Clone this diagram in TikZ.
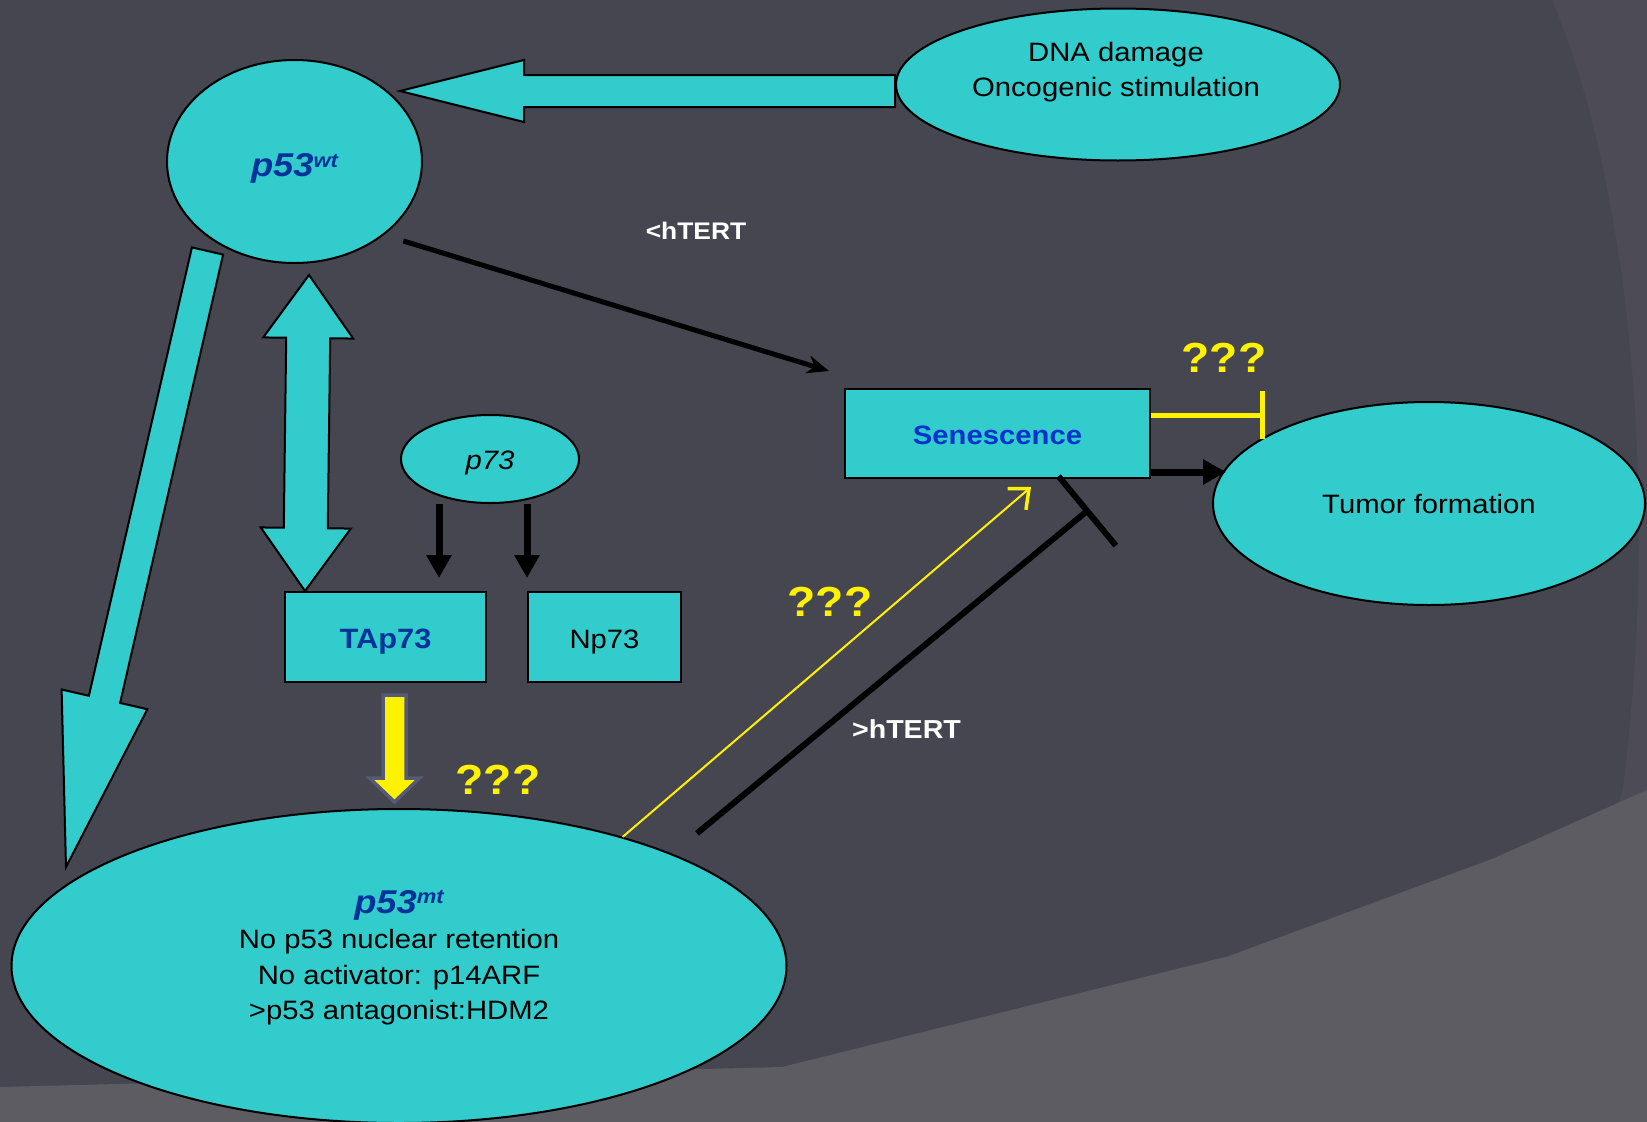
\documentclass[tikz,border=0pt]{standalone}
\usepackage{fontspec}
\setmainfont{Liberation Sans}[FakeStretch=1.1]
\usepackage{tikz}
\usepackage{xcolor}
\usetikzlibrary{shapes,arrows.meta,positioning,calc}

\definecolor{slide}{RGB}{70,70,80}
\definecolor{slidestrip}{RGB}{77,76,86}
\definecolor{slideband}{RGB}{92,92,98}
\definecolor{cellcyan}{RGB}{51,204,204}
\definecolor{p53blue}{RGB}{0,51,153}
\definecolor{senblue}{RGB}{0,51,204}
\definecolor{yelborder}{RGB}{85,90,120}

\newcommand{\txtsize}{\fontsize{26.6}{35.5}\selectfont}
\newcommand{\ptype}[1]{{\color{p53blue}\bfseries\itshape\fontsize{33}{36}\selectfont p53\raisebox{9.5pt}{\fontsize{20}{20}\selectfont #1}}}

\newcommand{\fatarrow}[6][]{%
  \coordinate (fah) at ($(#3)!#6!(#2)$);
  \draw[#1] ($(#2)!#4!90:(#3)$) -- ($(fah)!#4!90:(#3)$) -- ($(fah)!#5!90:(#3)$) -- (#3)
    -- ($(fah)!#5!-90:(#3)$) -- ($(fah)!#4!-90:(#3)$) -- ($(#2)!#4!-90:(#3)$) -- cycle;}
\newcommand{\fatboth}[6][]{%
  \coordinate (fba) at ($(#2)!#6!(#3)$);
  \coordinate (fbb) at ($(#3)!#6!(#2)$);
  \draw[#1] (#2) -- ($(fba)!#5!90:(#3)$) -- ($(fba)!#4!90:(#3)$) -- ($(fbb)!#4!90:(#3)$)
    -- ($(fbb)!#5!90:(#3)$) -- (#3) -- ($(fbb)!#5!-90:(#3)$) -- ($(fbb)!#4!-90:(#3)$)
    -- ($(fba)!#4!-90:(#3)$) -- ($(fba)!#5!-90:(#3)$) -- cycle;}

\begin{document}
\begin{tikzpicture}[x=1pt, y=-1pt]
    \tikzstyle{bubble} = [ellipse, draw, line width=2pt, fill=cellcyan, inner sep=0pt, text height=20pt, text depth=0pt]
    \tikzstyle{cellbox} = [rectangle, draw, line width=2pt, fill=cellcyan, inner sep=0pt, text height=22pt, text depth=0pt]
    \tikzstyle{fatcyan} = [draw, line width=2pt, fill=cellcyan]
    \tikzstyle{fatyellow} = [draw=yelborder, line width=3.5pt, fill=yellow]
    \tikzstyle{note} = [text=white, font=\bfseries\fontsize{24}{28}\selectfont]
    \tikzstyle{query} = [text=yellow, font=\bfseries\fontsize{42}{48}\selectfont]
    \tikzstyle{push} = [line width=7pt, -{Triangle[length=23pt,width=24pt]}]
    \tikzstyle{link} = [line width=5pt, -{Stealth[length=22pt,width=18pt]}]
    \tikzstyle{block} = [line width=6pt, -{Bar[width=90pt]}]
    \tikzstyle{blockyel} = [yellow, line width=5pt, -{Bar[width=48pt]}]
    \tikzstyle{hint} = [yellow, line width=2pt, -{Straight Barb[length=16pt,width=28pt,line width=3.5pt]}]

    \useasboundingbox (0,0) rectangle (1647,1122);
    \fill[slide] (0,0) rectangle (1647,1122);
    \fill[slidestrip] (1552,0) .. controls (1625,170) and (1662,480) .. (1623,787) .. controls (1590,920) and (1540,1040) .. (1483,1122) -- (1647,1122) -- (1647,0) -- cycle;
    \fill[slideband] (0,1087) -- (782,1067) -- (1229,956) -- (1492,859) -- (1647,790) -- (1647,1122) -- (0,1122) -- cycle;

    \node [bubble, minimum width=255pt, minimum height=203pt, text height=30pt] (p53wt) at (294.5,161.5) {\ptype{wt}};
    \node [bubble, minimum width=444pt, minimum height=152pt] (dna) at (1118,84.5) {};
    \node [align=center, font=\txtsize] (dnatext) at (1116,72) {DNA damage\\Oncogenic stimulation};
    \node [bubble, minimum width=178pt, minimum height=88pt, font=\itshape\txtsize] (p73) at (490,459) {p73};
    \node [cellbox, minimum width=201pt, minimum height=90pt, text=p53blue, font=\bfseries\fontsize{28}{32}\selectfont] (tap73) at (385.5,637) {TAp73};
    \node [cellbox, minimum width=153pt, minimum height=90pt, font=\txtsize, right=40pt of tap73] (np73) {Np73};
    \node [cellbox, minimum width=305pt, minimum height=89pt, text=senblue, font=\bfseries\txtsize] (sen) at (997.5,433.5) {Senescence};
    \node [bubble, minimum width=432pt, minimum height=203pt, font=\txtsize] (tumor) at (1429,503.5) {Tumor formation};
    \node [bubble, minimum width=775pt, minimum height=314pt] (p53mt) at (399,966) {};
    \node [align=center, font=\txtsize] (mttext) at (399,957.5) {\ptype{mt}\\No p53 nuclear retention\\No activator: p14ARF\\>p53 antagonist:HDM2};

    \node [note] (lowtert) at (696,230.5) {<hTERT};
    \node [note, font=\bfseries\fontsize{26}{30}\selectfont] (hightert) at (906.5,729) {>hTERT};
    \node [query] (qtumor) at (1224,358) {???};
    \node [query] (qsen) at (830,602) {???};
    \node [query] (qmt) at (498,780) {???};

    \coordinate (dnaout) at ([yshift=-6.5pt]dna.west);
    \coordinate (wtin) at (400,91);
    \fatarrow[fatcyan]{dnaout}{wtin}{16pt}{31pt}{124pt}
    \coordinate (wtout) at (207.5,251);
    \coordinate (mtin) at (66,867);
    \fatarrow[fatcyan]{wtout}{mtin}{16pt}{44pt}{172pt}
    \coordinate (wtlow) at (309,275);
    \coordinate (tapin) at ([xshift=21pt]tap73.north west);
    \fatboth[fatcyan]{wtlow}{tapin}{22pt}{45pt}{63pt}
    \coordinate (tapout) at ([xshift=9pt,yshift=-12pt]tap73.south);
    \coordinate (mtup) at (394.5,802);
    \fatarrow[fatyellow]{tapout}{mtup}{11.5pt}{25pt}{24pt}

    \draw [push] ([xshift=-51pt]p73.south) -- ([xshift=53.5pt,yshift=13pt]tap73.north);
    \draw [push] (np73.north west |- p73.south) -- ([yshift=13pt]np73.north west);
    \draw [link] ([xshift=18pt,yshift=-7pt]p53wt.south east) -- ([xshift=-15pt,yshift=17pt]sen.north west);
    \draw [push] ([yshift=-38.5pt]sen.east) -- ([xshift=75pt,yshift=-38.5pt]sen.east);
    \draw [blockyel] ([yshift=18.5pt]sen.east) -- ([xshift=114pt,yshift=18.5pt]sen.east);
    \draw [hint] (p53mt.30) -- ([xshift=33.5pt,yshift=-8pt]sen.south);
    \draw [block] ([shift={(36pt,16pt)}]p53mt.24) -- ([shift={(92pt,-30pt)}]sen.south);
\end{tikzpicture}
\end{document}
